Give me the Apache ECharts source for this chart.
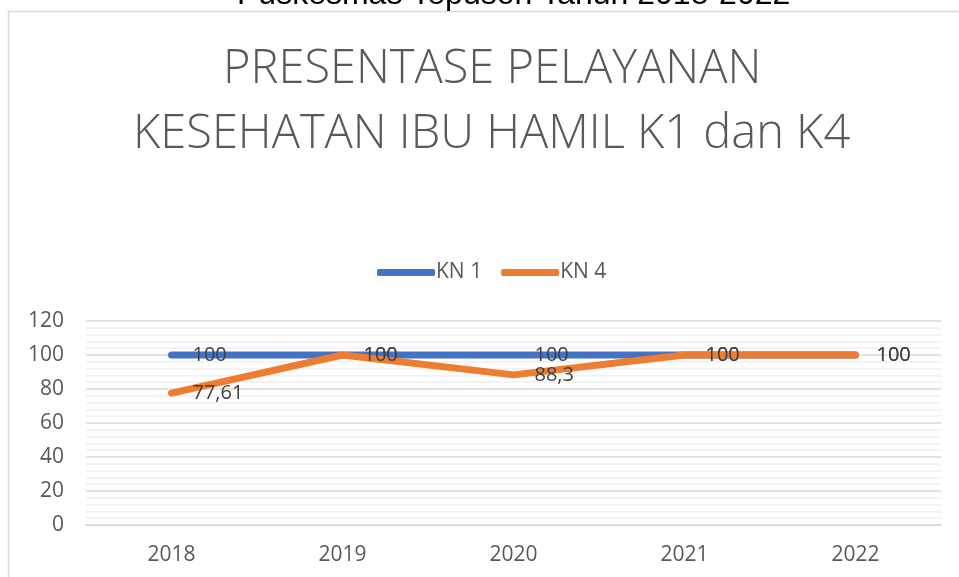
<!DOCTYPE html>
<html>
<head>
<meta charset="utf-8">
<script src="https://cdn.jsdelivr.net/npm/echarts@6/dist/echarts.min.js"></script>
<style>
html,body{margin:0;padding:0;background:#fff;}
#chart{width:959px;height:577px;}
</style>
</head>
<body>
<div id="chart"></div>
<script>
const categories = ['2018', '2019', '2020', '2021', '2022'];
const kn1Values = [100, 100, 100, 100, 100];
const kn4Values = [77.61, 100, 88.3, 100, 100];
const seriesNames = ['KN 1', 'KN 4'];
const yTicks = [0, 20, 40, 60, 80, 100, 120];
const titleLines = ['PRESENTASE PELAYANAN', 'KESEHATAN IBU HAMIL K1 dan K4'];
const subtitleText = 'Puskesmas Tepuson Tahun 2018-2022';

const FONT = 'Open Sans';
const chart = echarts.init(document.getElementById('chart'), null, {renderer: 'canvas'});
const fmt = p => String(p.value).replace('.', ',');
const labelStyle = {
  show: true, position: 'right', distance: 21,
  color: '#404040', fontSize: 20, fontFamily: FONT,
  formatter: fmt
};
const titleStyle = {fontFamily: FONT, fontSize: 47, fontWeight: 300, color: '#595959', lineHeight: 65};
chart.setOption({
  animation: false,
  backgroundColor: '#ffffff',
  graphic: [{
    type: 'rect', silent: true, z: -10,
    shape: {x: 8.5, y: 11.5, width: 1200, height: 1000},
    style: {fill: 'none', stroke: '#d9d9d9', lineWidth: 1.5}
  }],
  title: [{
    text: subtitleText, left: 232, top: -26,
    textStyle: {fontFamily: 'Liberation Sans, Arial, sans-serif', fontSize: 32, fontWeight: 'normal', color: '#000'}
  }, {
    text: titleLines[0], left: 218, top: 32, textStyle: titleStyle
  }, {
    text: titleLines[1], left: 128, top: 97, textStyle: titleStyle
  }],
  legend: {
    top: 257, left: 372,
    itemWidth: 58, itemHeight: 7, itemGap: 19,
    icon: 'roundRect',
    textStyle: {fontFamily: FONT, fontSize: 21, color: '#595959', padding: [0, 0, 0, -4]},
    data: seriesNames
  },
  grid: {left: 86, right: 18, top: 321, bottom: 52, containLabel: false},
  xAxis: {
    type: 'category', data: categories, boundaryGap: true,
    axisLine: {show: true, lineStyle: {color: '#d9d9d9', width: 1.5}},
    axisTick: {show: false},
    axisLabel: {margin: 20, fontSize: 21, color: '#595959', fontFamily: FONT}
  },
  yAxis: {
    type: 'value', min: yTicks[0], max: yTicks[yTicks.length - 1], interval: 20,
    axisLine: {show: false}, axisTick: {show: false},
    axisLabel: {margin: 22, fontSize: 21, color: '#595959', fontFamily: FONT},
    splitLine: {lineStyle: {color: '#d9d9d9', width: 1.5}},
    minorTick: {show: false, splitNumber: 5},
    minorSplitLine: {show: true, lineStyle: {color: '#f0f0f0', width: 1.5}}
  },
  series: [{
    name: seriesNames[0], type: 'line', data: kn1Values,
    symbol: 'circle', symbolSize: 0, showSymbol: true,
    lineStyle: {color: '#4472c4', width: 7, cap: 'round', join: 'round'},
    itemStyle: {color: '#4472c4'},
    label: labelStyle, z: 2
  }, {
    name: seriesNames[1], type: 'line', data: kn4Values,
    symbol: 'circle', symbolSize: 0, showSymbol: true,
    lineStyle: {color: '#ed7d31', width: 7, cap: 'round', join: 'round'},
    itemStyle: {color: '#ed7d31'},
    label: labelStyle, z: 3
  }]
});
</script>
</body>
</html>
